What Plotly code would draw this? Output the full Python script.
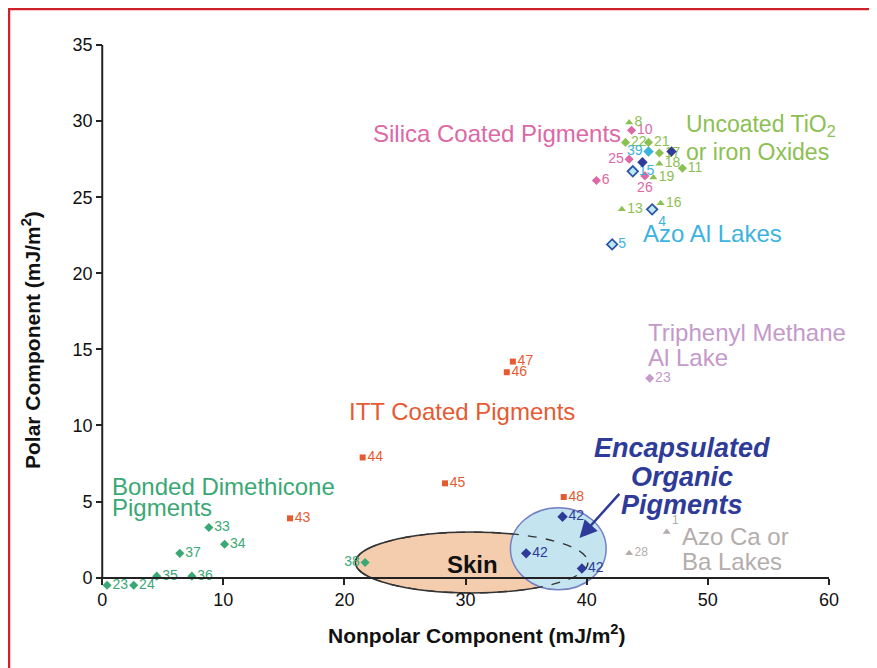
import plotly.graph_objects as go

# ---------------- data ----------------
bonded_labels = ["23", "24", "35", "36", "37", "33", "34", "38"]
bonded_x = [0.4, 2.6, 4.5, 7.4, 6.4, 8.8, 10.1, 21.7]
bonded_y = [-0.5, -0.5, 0.1, 0.1, 1.6, 3.3, 2.2, 1.0]

itt_labels = ["43", "44", "45", "46", "47", "48"]
itt_x = [15.5, 21.5, 28.3, 33.4, 33.9, 38.1]
itt_y = [3.9, 7.9, 6.2, 13.5, 14.2, 5.3]

encap_labels = ["42", "42", "42"]
encap_x = [38.0, 35.0, 39.6]
encap_y = [4.0, 1.6, 0.6]

azoca_labels = ["1", "28"]
azoca_x = [46.6, 43.5]
azoca_y = [3.0, 1.6]

triphenyl_labels = ["23"]
triphenyl_x = [45.2]
triphenyl_y = [13.1]

silica_labels = ["10", "25", "26", "6"]
silica_x = [43.7, 43.5, 44.8, 40.8]
silica_y = [29.4, 27.5, 26.4, 26.1]

uncoated_labels = ["8", "22", "21", "17", "18", "11", "19", "13", "16"]
uncoated_x = [43.5, 43.2, 45.1, 46.0, 46.0, 47.9, 45.5, 42.9, 46.1]
uncoated_y = [29.9, 28.6, 28.6, 27.9, 27.2, 26.9, 26.3, 24.2, 24.6]
uncoated_kind = ["tri", "dia", "dia", "dia", "tri", "dia", "tri", "tri", "tri"]

azoal_labels = ["39", "15", "4", "5"]
azoal_x = [45.1, 43.8, 45.4, 42.1]
azoal_y = [28.0, 26.7, 24.2, 21.9]

other_x = [47.0, 44.6]
other_y = [28.0, 27.3]

x_ticks = [0, 10, 20, 30, 40, 50, 60]
y_ticks = [0, 5, 10, 15, 20, 25, 30, 35]

# group label texts (one entry per line)
silica_title = ["Silica Coated Pigments"]
uncoated_title = ["Uncoated TiO<sub>2</sub>", "or iron Oxides"]
azoal_title = ["Azo Al Lakes"]
triphenyl_title = ["Triphenyl Methane", "Al Lake"]
itt_title = ["ITT Coated Pigments"]
encap_title = ["Encapsulated", "Organic", "Pigments"]
bonded_title = ["Bonded Dimethicone", "Pigments"]
azoca_title = ["Azo Ca or", "Ba Lakes"]
skin_title = "Skin"
x_title = "Nonpolar Component (mJ/m<sup>2</sup>)"
y_title = "Polar Component (mJ/m<sup>2</sup>)"

# ---------------- style ----------------
OFF = 8  # page body margin
W, H = 877 - OFF, 668 - OFF
ML, MR, MT, MB = 98 - OFF, 48, 45 - OFF, 69
PW, PH = W - ML - MR, H - MT - MB

def pxx(px):
    return (px - OFF - ML) / PW

def pxy(py):
    return (H - MB - (py - OFF)) / PH

FONT = "Liberation Sans, Arial, Helvetica, sans-serif"
C_BOND = "#3aa874"
C_ITT = "#e65a32"
C_ENC = "#2e3b98"
C_AZOCA = "#b3adab"
C_TRI = "#c49acb"
C_SIL = "#dc68a6"
C_UNC = "#8cc052"
C_AZOAL = "#3cb3df"

fig = go.Figure()

def add_points(x, y, labels, color, symbols, positions, size=7,
               mline=None, mfill=None, fsize=14):
    fig.add_trace(go.Scatter(
        x=x, y=y, mode="markers+text", text=labels,
        textposition=positions,
        textfont=dict(family=FONT, size=fsize, color=color),
        marker=dict(symbol=symbols, size=size,
                    color=mfill if mfill else color,
                    line=dict(color=mline if mline else color,
                              width=1.5 if mline else 0)),
        hoverinfo="x+y+text", showlegend=False, cliponaxis=False))

add_points(bonded_x, bonded_y, bonded_labels, C_BOND, "diamond",
           ["middle right"] * 7 + ["middle left"], size=7)
add_points(itt_x, itt_y, itt_labels, C_ITT, "square",
           ["middle right"] * 6, size=6)
add_points(encap_x, encap_y, encap_labels, C_ENC, "diamond",
           ["middle right"] * 3, size=8)
add_points(azoca_x, azoca_y, azoca_labels, C_AZOCA, "triangle-up",
           ["top right", "middle right"], size=7, fsize=12)
add_points(triphenyl_x, triphenyl_y, triphenyl_labels, C_TRI, "diamond",
           ["middle right"], size=7)
add_points(silica_x, silica_y, silica_labels, C_SIL, "diamond",
           ["middle right", "middle left", "bottom center", "middle right"],
           size=7)
add_points(uncoated_x, uncoated_y, uncoated_labels, C_UNC,
           ["triangle-up" if k == "tri" else "diamond" for k in uncoated_kind],
           ["middle right"] * 9, size=7)
add_points(azoal_x, azoal_y, azoal_labels, C_AZOAL, "diamond",
           ["middle left", "middle right", "bottom right", "middle right"],
           size=8)
# outlined look for azo Al lakes (15, 4, 5)
fig.add_trace(go.Scatter(
    x=azoal_x[1:], y=azoal_y[1:], mode="markers",
    marker=dict(symbol="diamond", size=8, color="#bfe6f4",
                line=dict(color="#2b56a6", width=1.8)),
    hoverinfo="skip", showlegend=False, cliponaxis=False))
fig.add_trace(go.Scatter(
    x=other_x, y=other_y, mode="markers",
    marker=dict(symbol="diamond", size=8, color=C_ENC),
    hoverinfo="x+y", showlegend=False, cliponaxis=False))

# ---------------- shapes ----------------
shapes = []
# skin ellipse
shapes.append(dict(type="circle", xref="x", yref="y", x0=20.9, x1=40.1,
                   y0=-1.0, y1=3.0, fillcolor="#f4cdae",
                   line=dict(color="#333333", width=1.5), layer="below"))
# encapsulated circle
shapes.append(dict(type="circle", xref="x", yref="y", x0=33.7, x1=41.6,
                   y0=-0.8, y1=4.6, fillcolor="#c4e5f0",
                   line=dict(color="#7380c6", width=1.5), layer="below"))
# dashed skin outline through the circle
shapes.append(dict(type="circle", xref="x", yref="y", x0=20.9, x1=40.1,
                   y0=-1.0, y1=3.0, fillcolor="rgba(0,0,0,0)",
                   line=dict(color="#333333", width=1.3, dash="dash"),
                   layer="below"))
# y axis line from 0 to 35
shapes.append(dict(type="line", xref="x", yref="y", x0=0, x1=0, y0=0,
                   y1=35, line=dict(color="#222222", width=2), layer="above"))
# red frame
shapes.append(dict(type="line", xref="paper", yref="paper", x0=pxx(8),
                   x1=pxx(877), y0=pxy(9), y1=pxy(9),
                   line=dict(color="#d2202a", width=2.5)))
shapes.append(dict(type="line", xref="paper", yref="paper", x0=pxx(9),
                   x1=pxx(9), y0=pxy(8), y1=pxy(668),
                   line=dict(color="#d2202a", width=2.5)))

# ---------------- annotations ----------------
ann = []

def lines(texts, x, ys, color, size=24, anchor="left", bold=False,
          italic=False):
    for t, yy in zip(texts, ys):
        tt = t
        if bold:
            tt = "<b>" + tt + "</b>"
        if italic:
            tt = "<i>" + tt + "</i>"
        ann.append(dict(text=tt, x=x, y=yy, xref="x", yref="y",
                        xanchor=anchor, yanchor="middle", showarrow=False,
                        font=dict(family=FONT, size=size, color=color)))

lines(silica_title, 22.2, [29.2], C_SIL)
lines(uncoated_title, 48.0, [29.7, 28.0], C_UNC, size=23)
lines(azoal_title, 44.5, [22.6], C_AZOAL)
lines(triphenyl_title, 44.9, [16.1, 14.5], C_TRI)
lines(itt_title, 20.2, [10.9], C_ITT)
lines(bonded_title, 0.6, [6.0, 4.6], C_BOND)
lines(azoca_title, 47.7, [2.7, 1.05], C_AZOCA)
lines(encap_title, 47.9, [8.5, 6.6, 4.8], C_ENC, size=27, anchor="center",
      bold=True, italic=True)
lines([skin_title], 30.6, [0.85], "#111111", size=24, anchor="center",
      bold=True)

# arrow
ann.append(dict(x=39.4, y=2.6, ax=42.8, ay=5.6, xref="x", yref="y",
                axref="x", ayref="y", text="", showarrow=True,
                arrowhead=2, arrowsize=1.4, arrowwidth=2.5,
                arrowcolor=C_ENC))

# axis titles
ann.append(dict(text="<b>" + x_title + "</b>", xref="paper", yref="paper",
                x=pxx(477), y=pxy(634), xanchor="center", yanchor="middle",
                showarrow=False, font=dict(family=FONT, size=21,
                                           color="#111111")))
ann.append(dict(text="<b>" + y_title + "</b>", xref="paper", yref="paper",
                x=pxx(31), y=pxy(340), xanchor="center", yanchor="middle",
                textangle=-90, showarrow=False,
                font=dict(family=FONT, size=21, color="#111111")))

ymin, ymax = -1.4, 35.0
xmin, xmax = -0.35, 60.0

fig.update_layout(
    width=W, height=H,
    margin=dict(l=ML, r=MR, t=MT, b=MB, pad=0),
    paper_bgcolor="#ffffff", plot_bgcolor="rgba(0,0,0,0)",
    font=dict(family=FONT, color="#111111"),
    shapes=shapes, annotations=ann, showlegend=False,
    xaxis=dict(range=[xmin, xmax], tickvals=x_ticks, showgrid=False,
               zeroline=False, showline=True, linecolor="#222222",
               linewidth=2, ticks="outside", ticklen=6, tickwidth=1.5,
               tickcolor="#222222", anchor="free",
               position=(0 - ymin) / (ymax - ymin),
               tickfont=dict(family=FONT, size=18, color="#111111")),
    yaxis=dict(range=[ymin, ymax], tickvals=y_ticks, showgrid=False,
               zeroline=False, showline=False, ticks="outside", ticklen=6,
               tickwidth=1.5, tickcolor="#222222", anchor="free",
               position=(0 - xmin) / (xmax - xmin),
               tickfont=dict(family=FONT, size=18, color="#111111")),
)

fig.write_html("out.html")
